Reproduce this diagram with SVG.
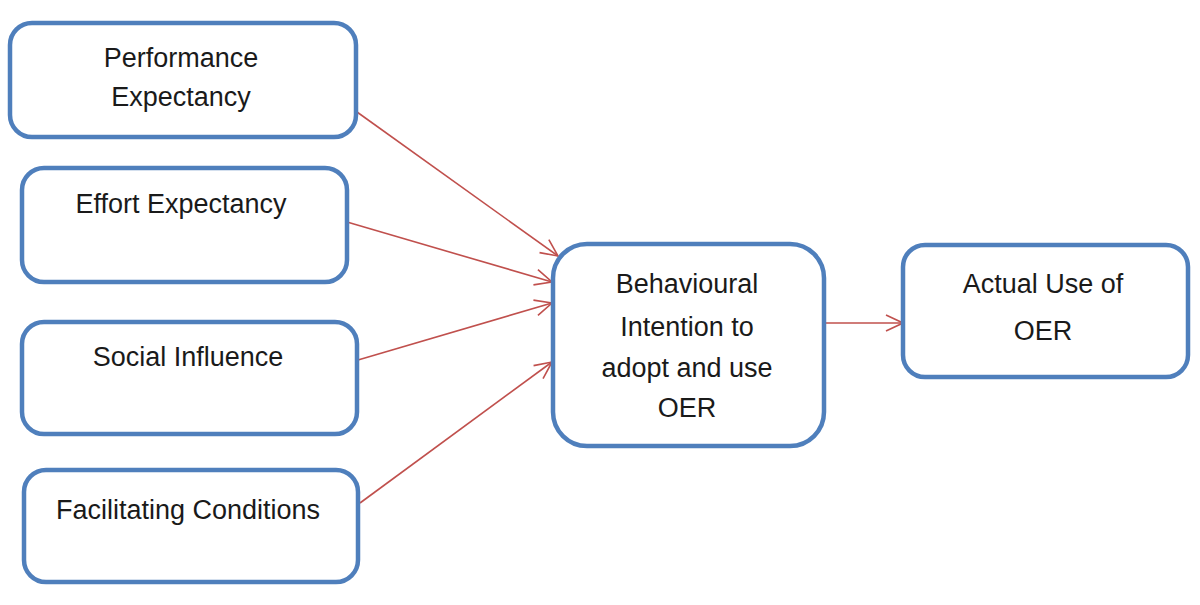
<svg xmlns="http://www.w3.org/2000/svg" width="1200" height="605" viewBox="0 0 1200 605">
<defs>
<style>
.box{fill:#fff;stroke:#4f7fbc;stroke-width:4.5}
.t{font-family:"Liberation Sans",Arial,sans-serif;font-size:27px;fill:#1a1a1a;text-anchor:middle}
.c{stroke:#c0504d;stroke-width:1.6;fill:none;marker-end:url(#ah)}
</style>
<marker id="ah" viewBox="0 0 20 20" refX="19" refY="10" markerWidth="20" markerHeight="20" markerUnits="userSpaceOnUse" orient="auto">
<path d="M2,2 L19,10 L2,18" fill="none" stroke="#c0504d" stroke-width="1.6"/>
</marker>
</defs>
<rect width="1200" height="605" fill="#fff"/>
<g id="connectors">
<line class="c" x1="357" y1="112" x2="558" y2="256"/>
<line class="c" x1="347" y1="222" x2="552" y2="282"/>
<line class="c" x1="358" y1="360" x2="552" y2="303"/>
<line class="c" x1="360" y1="503" x2="552" y2="362"/>
<line class="c" x1="824" y1="323" x2="903" y2="323"/>
</g>
<g id="performance">
<rect class="box" x="10" y="23" width="346" height="114" rx="22"/>
<text class="t" x="181" y="67">Performance</text>
<text class="t" x="181" y="106">Expectancy</text>
</g>
<g id="effort">
<rect class="box" x="22" y="168" width="325" height="114" rx="22"/>
<text class="t" x="181" y="213">Effort Expectancy</text>
</g>
<g id="social">
<rect class="box" x="22" y="322" width="335" height="112" rx="22"/>
<text class="t" x="188" y="366">Social Influence</text>
</g>
<g id="facilitating">
<rect class="box" x="24" y="470" width="334" height="112" rx="22"/>
<text class="t" x="188" y="519">Facilitating Conditions</text>
</g>
<g id="intention">
<rect class="box" x="553" y="244" width="271" height="202" rx="34"/>
<text class="t" x="687" y="293">Behavioural</text>
<text class="t" x="687" y="336">Intention to</text>
<text class="t" x="687" y="377">adopt and use</text>
<text class="t" x="687" y="417">OER</text>
</g>
<g id="actual">
<rect class="box" x="903" y="245" width="285" height="132" rx="22"/>
<text class="t" x="1043" y="293">Actual Use of</text>
<text class="t" x="1043" y="340">OER</text>
</g>
</svg>
